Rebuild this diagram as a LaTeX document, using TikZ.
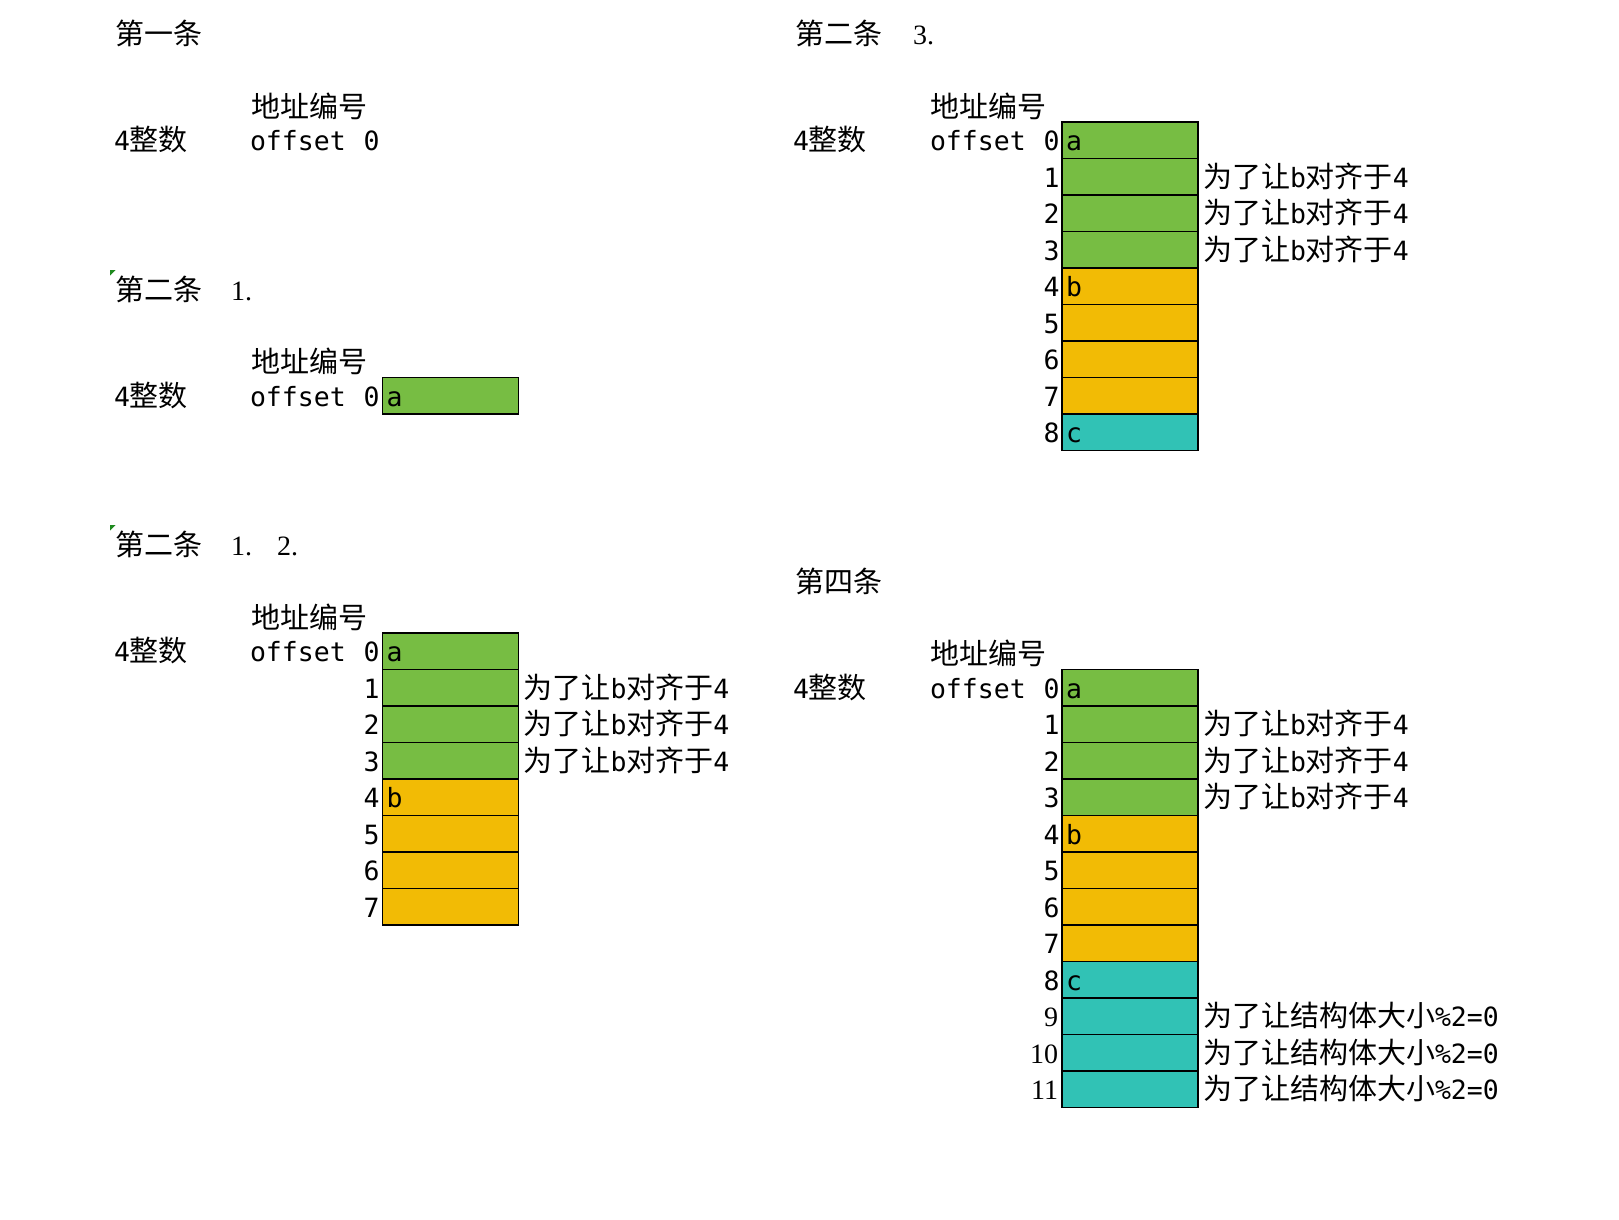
\documentclass[tikz,border=0pt]{standalone}
\usepackage{fontspec}
\newfontfamily\cjkf{Noto Sans CJK SC}
\newfontfamily\monof{DejaVu Sans Mono}
\newfontfamily\serf{Liberation Serif}
\newcommand\xm[1]{{\fontsize{26.5}{30}\selectfont\monof #1}}
\definecolor{cgreen}{HTML}{77BD43}
\definecolor{cgold}{HTML}{F2BB05}
\definecolor{cteal}{HTML}{31C2B5}
\definecolor{ctri}{HTML}{1E8A1E}
\tikzset{
 txt/.style={inner sep=0pt, outer sep=0pt, anchor=base west, font=\fontsize{29}{31}\selectfont\cjkf},
 mtxt/.style={inner sep=0pt, outer sep=0pt, anchor=base west, font=\fontsize{26.5}{30}\selectfont\monof},
 lbl/.style={inner sep=0pt, outer sep=0pt, anchor=base east, font=\fontsize{26.5}{30}\selectfont\monof},
 slbl/.style={inner sep=0pt, outer sep=0pt, anchor=base east, font=\fontsize{28}{30}\selectfont\serf},
 stxt/.style={inner sep=0pt, outer sep=0pt, anchor=base west, font=\fontsize{28}{30}\selectfont\serf},
 cell/.style={draw=black, line width=1.2pt, minimum width=136pt, minimum height=36.5pt, inner sep=0pt, outer sep=0pt, anchor=north west},
 tri/.style={fill=ctri},
}
\begin{document}
\begin{tikzpicture}[x=1pt,y=-1pt]
\fill[white] (0,0) rectangle (1619,1219);
\useasboundingbox (0,0) rectangle (1619,1219);

% ---------- Section 1 ----------
\node[txt] (t1) at (115,44.5) {第一条};
\node[txt] (h1) at (251,117) {地址编号};
\node[txt] (n1) at (114,150.5) {\xm{4}整数};
\node[mtxt] (o1) at (250,150.5) {offset};
\node[lbl] (z1) at (379.5,150.5) {0};

% ---------- Section 2 ----------
\fill[tri] (110,270) -- (115.5,270) -- (110,275.5) -- cycle;
\node[txt] (t2) at (115,300) {第二条};
\node[stxt] (t2a) at (231,300) {1.};
\node[txt] (h2) at (251,372.5) {地址编号};
\node[txt] (n2) at (114,406) {\xm{4}整数};
\node[mtxt] (o2) at (250,406) {offset};
\node[lbl] (z2) at (379.5,406) {0};
\node[cell, fill=cgreen] (L2c0) at (382.5,377.5) {};
\node[mtxt] (L2a) at (386.5,406) {a};

% ---------- Section 3 ----------
\fill[tri] (110,525) -- (115.5,525) -- (110,530.5) -- cycle;
\node[txt] (t3) at (115,555.5) {第二条};
\node[stxt] (t3a) at (231,555.5) {1.};
\node[stxt] (t3b) at (277,555.5) {2.};
\node[txt] (h3) at (251,628) {地址编号};
\node[txt] (n3) at (114,661.5) {\xm{4}整数};
\node[mtxt] (o3) at (250,661.5) {offset};
\foreach \i/\c in {0/cgreen,1/cgreen,2/cgreen,3/cgreen,4/cgold,5/cgold,6/cgold,7/cgold}{
  \node[cell, fill=\c] (L3c\i) at (382.5,{633+36.5*\i}) {};
  \node[lbl] (L3l\i) at (379.5,{661.5+36.5*\i}) {\i};
}
\node[mtxt] (L3a) at (386.5,661.5) {a};
\node[mtxt] (L3b) at (386.5,{661.5+36.5*4}) {b};
\foreach \i in {1,2,3}{
  \node[txt] (L3s\i) at (523.5,{661.5+36.5*\i}) {为了让\xm{b}对齐于\xm{4}};
}

% ---------- Right section (3.) ----------
\node[txt] (t4) at (795,44.5) {第二条};
\node[stxt] (t4a) at (913,44.5) {3.};
\node[txt] (h4) at (930,117) {地址编号};
\node[txt] (n4) at (793,150.5) {\xm{4}整数};
\node[mtxt] (o4) at (930,150.5) {offset};
\foreach \i/\c in {0/cgreen,1/cgreen,2/cgreen,3/cgreen,4/cgold,5/cgold,6/cgold,7/cgold,8/cteal}{
  \node[cell, fill=\c] (R1c\i) at (1062,{122+36.5*\i}) {};
  \node[lbl] (R1l\i) at (1059.5,{150.5+36.5*\i}) {\i};
}
\node[mtxt] (R1a) at (1066,150.5) {a};
\node[mtxt] (R1b) at (1066,{150.5+36.5*4}) {b};
\node[mtxt] (R1cc) at (1066,{150.5+36.5*8}) {c};
\foreach \i in {1,2,3}{
  \node[txt] (R1s\i) at (1203,{150.5+36.5*\i}) {为了让\xm{b}对齐于\xm{4}};
}

% ---------- Section 4 ----------
\node[txt] (t5) at (795,592) {第四条};
\node[txt] (h5) at (930,664.5) {地址编号};
\node[txt] (n5) at (793,698) {\xm{4}整数};
\node[mtxt] (o5) at (930,698) {offset};
\foreach \i/\c in {0/cgreen,1/cgreen,2/cgreen,3/cgreen,4/cgold,5/cgold,6/cgold,7/cgold,8/cteal,9/cteal,10/cteal,11/cteal}{
  \node[cell, fill=\c] (R2c\i) at (1062,{669.5+36.5*\i}) {};
}
\foreach \i in {0,...,8}{
  \node[lbl] (R2l\i) at (1059.5,{698+36.5*\i}) {\i};
}
\foreach \i in {9,10,11}{
  \node[slbl] (R2l\i) at (1058,{698+36.5*\i}) {\i};
}
\node[mtxt] (R2a) at (1066,698) {a};
\node[mtxt] (R2b) at (1066,{698+36.5*4}) {b};
\node[mtxt] (R2cc) at (1066,{698+36.5*8}) {c};
\foreach \i in {1,2,3}{
  \node[txt] (R2s\i) at (1203,{698+36.5*\i}) {为了让\xm{b}对齐于\xm{4}};
}
\foreach \i in {9,10,11}{
  \node[txt] (R2t\i) at (1203,{698+36.5*\i}) {为了让结构体大小\xm{\%2=0}};
}
\end{tikzpicture}
\end{document}
